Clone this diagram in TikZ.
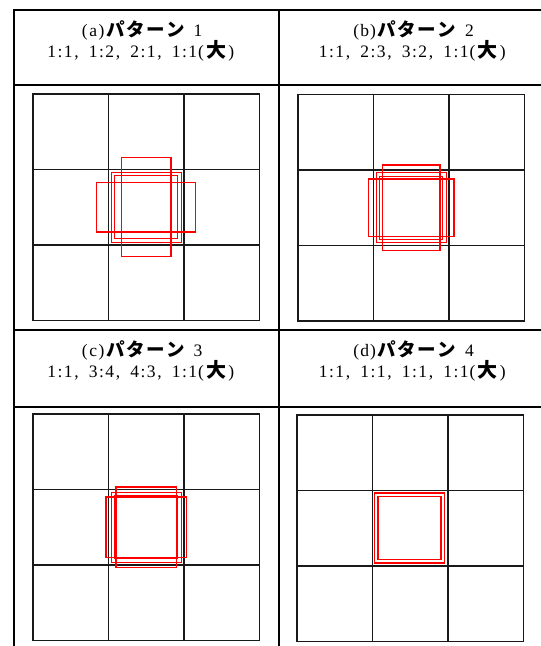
\documentclass[tikz,border=0pt]{standalone}
\usepackage{fontspec}
\setmainfont{Liberation Serif}
\newfontfamily\jpfont{Noto Sans CJK JP}
\definecolor{boxred}{HTML}{FF0000}

% half-width cells for the latin text, full-width cells for kana
\def\hwloop#1{\ifx#1\relax\else\makebox[8.3pt]{#1}\expandafter\hwloop\fi}
\newcommand{\hw}[1]{\hwloop#1\relax}
\def\kwloop#1{\ifx#1\relax\else\makebox[20pt]{#1}\expandafter\kwloop\fi}
\newcommand{\kw}[1]{{\jpfont\fontsize{18.5}{21}\selectfont\bfseries\kwloop#1\relax}}
\newcommand{\bigmark}{\hw{(}\makebox[22pt]{\jpfont\fontsize{20}{21}\selectfont\bfseries 大}\hw{)}}

% one anchor box, centred on the middle cell
\newcommand{\abox}[2]{\draw[anc] ({-#1/2},{-#2/2}) rectangle ({#1/2},{#2/2});}

\begin{document}
\begin{tikzpicture}[x=1pt, y=-1pt,
  tbl/.style={line width=2pt, black},
  gridln/.style={line width=1.5pt, black!90},
  anc/.style={line width=1.4pt, boxred},
  hdr/.style={align=center, anchor=base, font=\fontsize{17.5}{21}\selectfont, inner sep=0pt},
]
\clip (0,0) rectangle (541,646);

% ---- table frame ----
\draw[tbl] (14,10) -- (560,10);
\draw[tbl] (14,85) -- (560,85);
\draw[tbl] (14,330) -- (560,330);
\draw[tbl] (14,407) -- (560,407);
\draw[tbl] (14,9) -- (14,660);
\draw[tbl] (279,9) -- (279,660);

% ---- headers (anchor = baseline of the second line) ----
\node[hdr] (hda) at (141.5,57)
  {\hw{(a)}\kw{パターン}\hw{~1}\\\hw{1:1,~1:2,~2:1,~1:1}\bigmark};
\node[hdr] (hdb) at (413,57)
  {\hw{(b)}\kw{パターン}\hw{~2}\\\hw{1:1,~2:3,~3:2,~1:1}\bigmark};
\node[hdr] (hdc) at (141.5,377)
  {\hw{(c)}\kw{パターン}\hw{~3}\\\hw{1:1,~3:4,~4:3,~1:1}\bigmark};
\node[hdr] (hdd) at (413,377)
  {\hw{(d)}\kw{パターン}\hw{~4}\\\hw{1:1,~1:1,~1:1,~1:1}\bigmark};

% ---- 3x3 grids ----
\foreach \gx/\gy in {33/94, 298/94.5, 33/414, 297/415}{
  \begin{scope}[shift={(\gx,\gy)}]
    \draw[gridln] (0,0) rectangle (226.5,226.5);
    \foreach \k in {75.5,151}{
      \draw[gridln] (\k,0) -- (\k,226.5);
      \draw[gridln] (0,\k) -- (226.5,\k);
    }
  \end{scope}
}

% ---- (a) 1:1, 1:2, 2:1, 1:1 large ----
\begin{scope}[shift={(146.25,207.25)}]
  \abox{63}{63} \abox{49.5}{99} \abox{99}{49.5} \abox{70}{70}
\end{scope}

% ---- (b) 1:1, 2:3, 3:2, 1:1 large ----
\begin{scope}[shift={(411.25,207.75)}]
  \abox{63}{63} \abox{57.2}{85.7} \abox{85.7}{57.2} \abox{70}{70}
\end{scope}

% ---- (c) 1:1, 3:4, 4:3, 1:1 large ----
\begin{scope}[shift={(146.25,527.25)}]
  \abox{63}{63} \abox{60.6}{80.8} \abox{80.8}{60.6} \abox{70}{70}
\end{scope}

% ---- (d) 1:1 x3, 1:1 large ----
\begin{scope}[shift={(409.5,528)}]
  \abox{63}{63} \abox{63}{63} \abox{63}{63} \abox{70}{70}
\end{scope}

\end{tikzpicture}
\end{document}
